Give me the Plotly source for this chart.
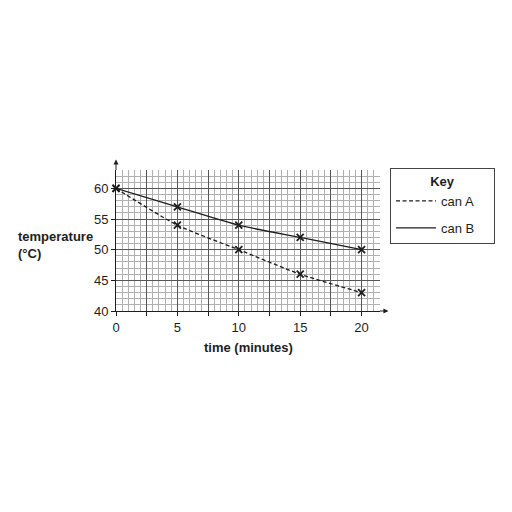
import plotly.graph_objects as go

time_min = [0, 5, 10, 15, 20]
can_a = [60, 54, 50, 46, 43]
can_b = [60, 57, 54, 52, 50]

x_tickvals = [0, 2.5, 5, 7.5, 10, 12.5, 15, 17.5, 20]
x_ticktext = ["0", "", "5", "", "10", "", "15", "", "20"]
y_tickvals = [40, 45, 50, 55, 60]
y_ticktext = ["40", "45", "50", "55", "60"]

ink = "#1e1e1e"
font = "Liberation Sans, Arial, sans-serif"
pad = "\u00a0" * 4

fig = go.Figure()

fig.add_trace(go.Scatter(x=time_min, y=can_a, mode="lines", name="can A" + pad, legendgroup="a",
                         line=dict(color=ink, width=1.3, dash="4px,2.5px", shape="spline", smoothing=0.6)))
fig.add_trace(go.Scatter(x=time_min, y=can_b, mode="lines", name="can B" + pad, legendgroup="b",
                         line=dict(color=ink, width=1.3, shape="spline", smoothing=0.6)))
for ys in (can_a, can_b):
    fig.add_trace(go.Scatter(x=time_min, y=ys, mode="markers", showlegend=False,
                             marker=dict(symbol="x-thin", size=7, line=dict(color=ink, width=1.8)),
                             cliponaxis=False))

fig.update_xaxes(range=[0, 21.5], tickvals=x_tickvals, ticktext=x_ticktext,
                 ticks="outside", ticklen=4, tickcolor=ink, tickwidth=1,
                 showline=True, linecolor=ink, linewidth=1,
                 showgrid=True, gridcolor="#555555", gridwidth=1,
                 minor=dict(dtick=0.5, tick0=0, showgrid=True, gridcolor="#b0b0b0", gridwidth=0.8),
                 zeroline=False, tickfont=dict(size=13, color=ink, family=font), fixedrange=True)
fig.update_yaxes(range=[40, 63.01], tickvals=y_tickvals, ticktext=y_ticktext,
                 ticks="outside", ticklen=4, tickcolor=ink, tickwidth=1,
                 showline=True, linecolor=ink, linewidth=1,
                 showgrid=True, gridcolor="#555555", gridwidth=1,
                 minor=dict(dtick=1, tick0=40, showgrid=True, gridcolor="#b0b0b0", gridwidth=0.8),
                 zeroline=False, tickfont=dict(size=13, color=ink, family=font), fixedrange=True)

annotations = [
    dict(xref="paper", yref="paper", x=0, y=1.075, ax=0, ay=12, showarrow=True,
         arrowhead=2, arrowsize=1, arrowwidth=1, arrowcolor=ink, text=""),
    dict(xref="paper", yref="paper", x=1.032, y=0, ax=-10, ay=0, showarrow=True,
         arrowhead=2, arrowsize=1, arrowwidth=1, arrowcolor=ink, text=""),
    dict(xref="paper", yref="paper", x=-0.38, y=0.47, xanchor="left", yanchor="middle",
         align="left", showarrow=False,
         text="<b>temperature<br>(°C)</b>", font=dict(size=13, color=ink, family=font)),
    dict(xref="paper", yref="paper", x=0.5, y=-0.19, xanchor="center", yanchor="top",
         showarrow=False, text="<b>time (minutes)</b>", font=dict(size=13, color=ink, family=font)),
]

fig.update_layout(
    width=512, height=512,
    margin=dict(l=108, r=140, t=162, b=209),
    paper_bgcolor="white", plot_bgcolor="white",
    showlegend=True,
    legend=dict(x=1.038, y=1.014, xanchor="left", yanchor="top",
                bordercolor="#444444", borderwidth=1, bgcolor="white",
                title=dict(text="<b>Key</b>", side="top center", font=dict(size=13, color=ink, family=font)),
                font=dict(size=13, color=ink, family=font),
                itemwidth=40, tracegroupgap=7),
    annotations=annotations,
    font=dict(family=font, color=ink),
)

fig.write_html("out.html")
